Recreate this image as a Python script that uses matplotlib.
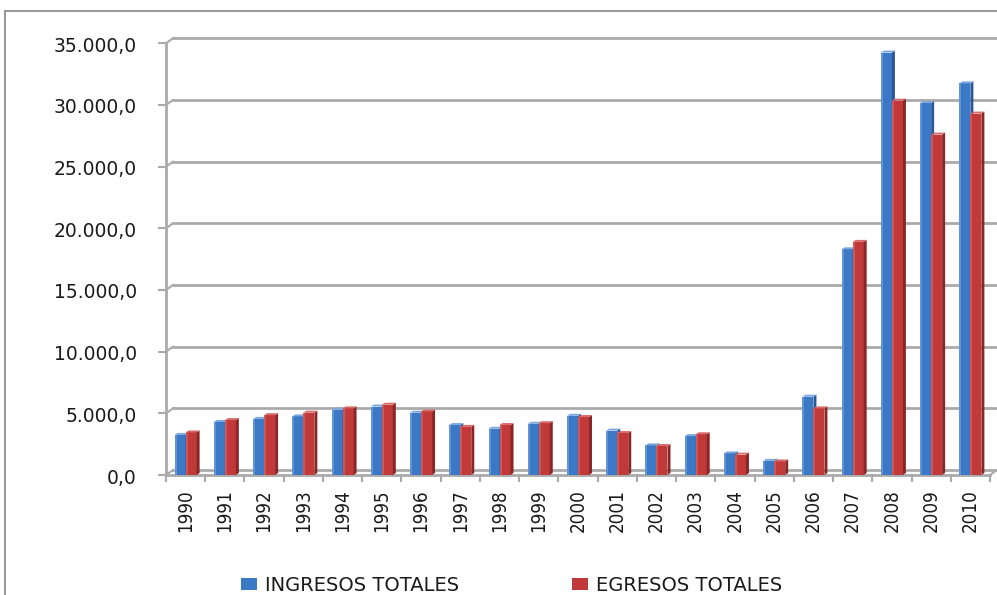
import numpy as np
import matplotlib
matplotlib.use("Agg")
import matplotlib.pyplot as plt
from matplotlib.patches import Rectangle, Polygon

years = [str(y) for y in range(1990, 2011)]
ingresos = [3250, 4300, 4550, 4750, 5300, 5550, 5050, 4050, 3750, 4150,
            4800, 3600, 2400, 3150, 1750, 1150, 6350, 18300, 34250, 30150, 31750]
egresos = [3450, 4450, 4850, 5050, 5400, 5700, 5150, 3900, 4050, 4200,
           4700, 3400, 2350, 3300, 1650, 1100, 5400, 18900, 30350, 27600, 29300]
series_names = ["INGRESOS TOTALES", "EGRESOS TOTALES"]
yticks = np.arange(0, 35001, 5000)

W, H = 997, 595
fig = plt.figure(figsize=(W / 100, H / 100), dpi=100)

# plot area in pixels (front plane)
x0, x1 = 166, 990
ytop, ybot = 43.3, 475
ax = fig.add_axes([x0 / W, 1 - ybot / H, (x1 - x0) / W, (ybot - ytop) / H])
ax.set_xlim(-0.5, len(years) - 0.5)
ax.set_ylim(0, 35000)
ax.axis("off")

px_cat = (x1 - x0) / len(years)
px_val = (ybot - ytop) / 35000
# depth of the back wall and of the bars, pixels
wall_dx, wall_dy = 7, 5
bar_dx, bar_dy = 3, 2
wdx, wdy = wall_dx / px_cat, wall_dy / px_val
bdx, bdy = bar_dx / px_cat, bar_dy / px_val

grid_c = "#aaaaaa"
xl, xr = -0.5, len(years) - 0.5
tick_len = 7 / px_cat

# back wall gridlines + connectors
for v in yticks:
    ax.plot([xl + wdx, xr + 2], [v + wdy, v + wdy], color=grid_c, lw=2, clip_on=False, zorder=1)
    ax.plot([xl, xl + wdx], [v, v + wdy], color=grid_c, lw=1.5, clip_on=False, zorder=1)
    ax.plot([xl - tick_len, xl], [v, v], color=grid_c, lw=1.5, clip_on=False, zorder=1)
# left wall edge and floor
ax.plot([xl, xl], [0, 35000], color=grid_c, lw=2, clip_on=False, zorder=1)
ax.plot([xl, xr], [0, 0], color=grid_c, lw=2, clip_on=False, zorder=1)
ax.plot([xr, xr + wdx], [0, wdy], color=grid_c, lw=1.5, clip_on=False, zorder=1)
for i in range(len(years) + 1):
    ax.plot([xl + i, xl + i], [0, -6 / px_val], color=grid_c, lw=1.5, clip_on=False, zorder=1)

bw = 11 / px_cat
styles = [("#3b78c6", "#7aa7e0", "#2a5796"), ("#c2393a", "#d96a6a", "#8a2626")]


def draw_bar(xs, h, face, light, dark):
    ax.add_patch(Rectangle((xs, 0), bw, h, facecolor=face, edgecolor="none", zorder=3))
    ax.add_patch(Rectangle((xs, 0), bw * 0.18, h, facecolor=light, edgecolor="none", alpha=0.6, zorder=3))
    ax.add_patch(Polygon([(xs + bw, 0), (xs + bw, h), (xs + bw + bdx, h + bdy), (xs + bw + bdx, bdy)],
                         facecolor=dark, edgecolor="none", zorder=3))
    ax.add_patch(Polygon([(xs, h), (xs + bw, h), (xs + bw + bdx, h + bdy), (xs + bdx, h + bdy)],
                         facecolor=light, edgecolor="none", zorder=3))


for i in range(len(years)):
    draw_bar(i - bw, ingresos[i], *styles[0])
    draw_bar(i, egresos[i], *styles[1])

# tick labels
for v in yticks:
    lab = f"{v:,.1f}".replace(",", "X").replace(".", ",").replace("X", ".")
    ax.text(xl - 29 / px_cat, v - 3 / px_val, lab, ha="right", va="center", fontsize=13.5,
            family="DejaVu Sans", color="#1a1a1a", clip_on=False)
for i, y in enumerate(years):
    ax.text(i, -14 / px_val, y, rotation=90, ha="center", va="top", fontsize=13.5,
            family="DejaVu Sans", fontstretch="condensed", color="#1a1a1a", clip_on=False)

# legend
leg = [(241, styles[0][0]), (572, styles[1][0])]
for (lx, col), name in zip(leg, series_names):
    fig.patches.append(Rectangle((lx / W, 1 - 590 / H), 16 / W, 12 / H, facecolor=col,
                                 edgecolor="none", transform=fig.transFigure))
    fig.text((lx + 24) / W, 1 - 591 / H, name, fontsize=14, family="DejaVu Sans",
             color="#1a1a1a", va="baseline")

# chart area border
fig.patches.append(Rectangle((5 / W, -0.1), 1.2, 1 - 11 / H + 0.1, facecolor="none",
                             edgecolor="#9a9a9a", lw=1.5, transform=fig.transFigure))

fig.savefig("out.png", dpi=100)
